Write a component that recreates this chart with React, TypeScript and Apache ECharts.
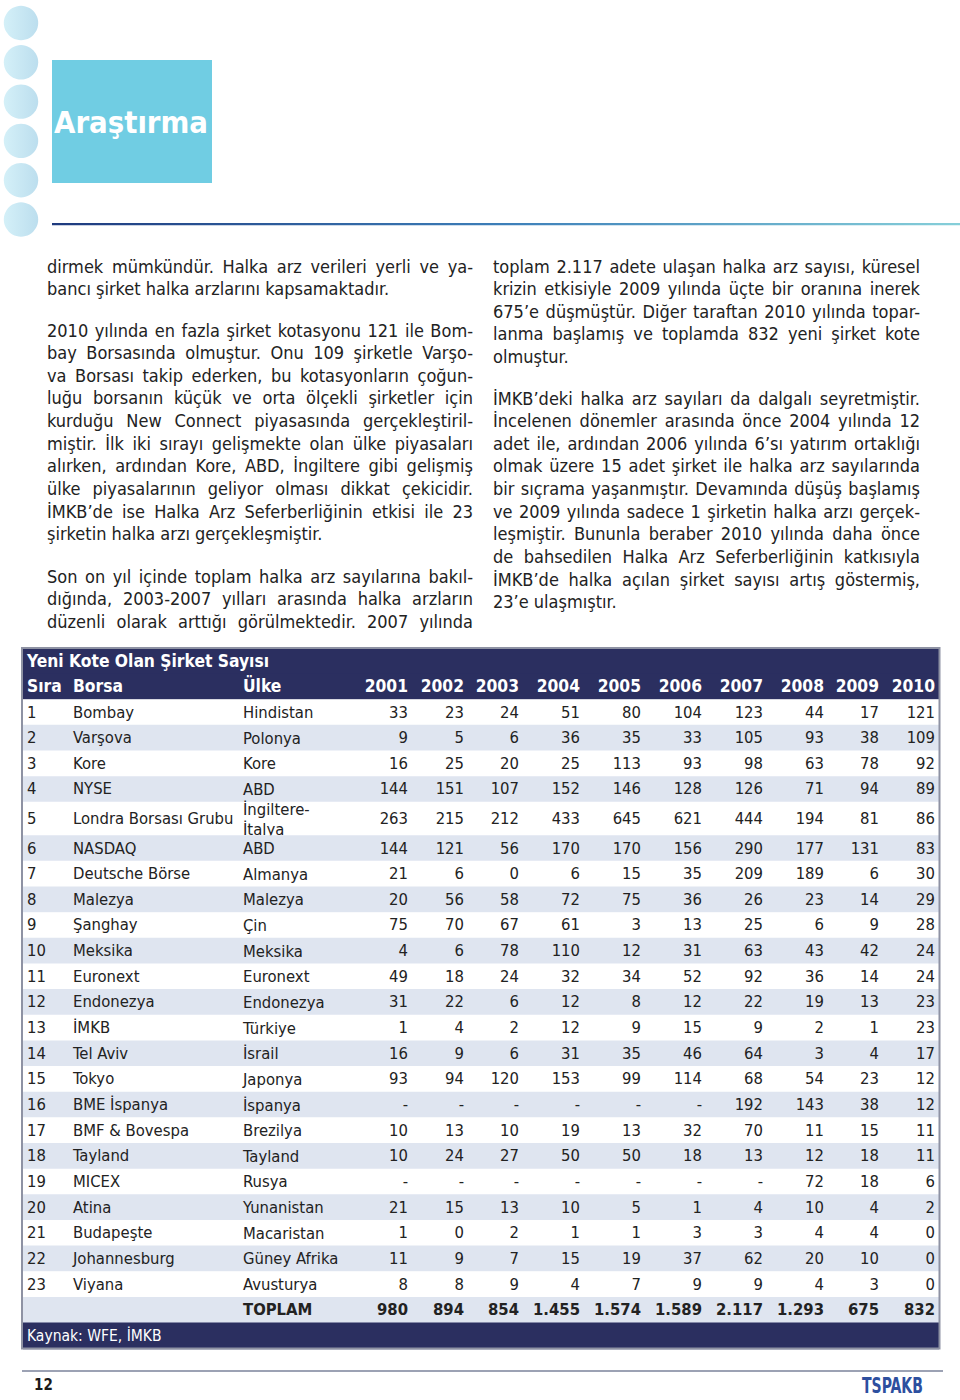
import React, { useEffect, useRef } from 'react';
import * as echarts from 'echarts';

// ---------------- DATA ----------------
const tableTitle = 'Yeni Kote Olan Şirket Sayısı';
const headSira = 'Sıra';
const headBorsa = 'Borsa';
const headUlke = 'Ülke';
const years = ['2001', '2002', '2003', '2004', '2005', '2006', '2007', '2008', '2009', '2010'];
const ranks = [1, 2, 3, 4, 5, 6, 7, 8, 9, 10, 11, 12, 13, 14, 15, 16, 17, 18, 19, 20, 21, 22, 23];
const exchanges = [
  'Bombay', 'Varşova', 'Kore', 'NYSE', 'Londra Borsası Grubu', 'NASDAQ', 'Deutsche Börse', 'Malezya',
  'Şanghay', 'Meksika', 'Euronext', 'Endonezya', 'İMKB', 'Tel Aviv', 'Tokyo', 'BME İspanya',
  'BMF & Bovespa', 'Tayland', 'MICEX', 'Atina', 'Budapeşte', 'Johannesburg', 'Viyana',
];
const countries = [
  'Hindistan', 'Polonya', 'Kore', 'ABD', 'İngiltere-\nİtalya', 'ABD', 'Almanya', 'Malezya',
  'Çin', 'Meksika', 'Euronext', 'Endonezya', 'Türkiye', 'İsrail', 'Japonya', 'İspanya',
  'Brezilya', 'Tayland', 'Rusya', 'Yunanistan', 'Macaristan', 'Güney Afrika', 'Avusturya',
];
const v2001 = [33, 9, 16, 144, 263, 144, 21, 20, 75, 4, 49, 31, 1, 16, 93, null, 10, 10, null, 21, 1, 11, 8];
const v2002 = [23, 5, 25, 151, 215, 121, 6, 56, 70, 6, 18, 22, 4, 9, 94, null, 13, 24, null, 15, 0, 9, 8];
const v2003 = [24, 6, 20, 107, 212, 56, 0, 58, 67, 78, 24, 6, 2, 6, 120, null, 10, 27, null, 13, 2, 7, 9];
const v2004 = [51, 36, 25, 152, 433, 170, 6, 72, 61, 110, 32, 12, 12, 31, 153, null, 19, 50, null, 10, 1, 15, 4];
const v2005 = [80, 35, 113, 146, 645, 170, 15, 75, 3, 12, 34, 8, 9, 35, 99, null, 13, 50, null, 5, 1, 19, 7];
const v2006 = [104, 33, 93, 128, 621, 156, 35, 36, 13, 31, 52, 12, 15, 46, 114, null, 32, 18, null, 1, 3, 37, 9];
const v2007 = [123, 105, 98, 126, 444, 290, 209, 26, 25, 63, 92, 22, 9, 64, 68, 192, 70, 13, null, 4, 3, 62, 9];
const v2008 = [44, 93, 63, 71, 194, 177, 189, 23, 6, 43, 36, 19, 2, 3, 54, 143, 11, 12, 72, 10, 4, 20, 4];
const v2009 = [17, 38, 78, 94, 81, 131, 6, 14, 9, 42, 14, 13, 1, 4, 23, 38, 15, 18, 18, 4, 4, 10, 3];
const v2010 = [121, 109, 92, 89, 86, 83, 30, 29, 28, 24, 24, 23, 23, 17, 12, 12, 11, 11, 6, 2, 0, 0, 0];
const yearValues = [v2001, v2002, v2003, v2004, v2005, v2006, v2007, v2008, v2009, v2010];
const totalLabel = 'TOPLAM';
const totals = ['980', '894', '854', '1.455', '1.574', '1.589', '2.117', '1.293', '675', '832'];
const sourceNote = 'Kaynak: WFE, İMKB';

const sectionTitle = 'Araştırma';
const pageNumber = '12';
const brand = 'TSPAKB';

const leftParagraphs = [
  {
    lines: [
      'dirmek mümkündür. Halka arz verileri yerli ve ya-',
      'bancı şirket halka arzlarını kapsamaktadır.',
    ],
    ends: true,
  },
  {
    lines: [
      '2010 yılında en fazla şirket kotasyonu 121 ile Bom-',
      'bay Borsasında olmuştur. Onu 109 şirketle Varşo-',
      'va Borsası takip ederken, bu kotasyonların çoğun-',
      'luğu borsanın küçük ve orta ölçekli şirketler için',
      'kurduğu New Connect piyasasında gerçekleştiril-',
      'miştir. İlk iki sırayı gelişmekte olan ülke piyasaları',
      'alırken, ardından Kore, ABD, İngiltere gibi gelişmiş',
      'ülke piyasalarının geliyor olması dikkat çekicidir.',
      'İMKB’de ise Halka Arz Seferberliğinin etkisi ile 23',
      'şirketin halka arzı gerçekleşmiştir.',
    ],
    ends: true,
  },
  {
    lines: [
      'Son on yıl içinde toplam halka arz sayılarına bakıl-',
      'dığında, 2003-2007 yılları arasında halka arzların',
      'düzenli olarak arttığı görülmektedir. 2007 yılında',
    ],
    ends: false,
  },
];
const rightParagraphs = [
  {
    lines: [
      'toplam 2.117 adete ulaşan halka arz sayısı, küresel',
      'krizin etkisiyle 2009 yılında üçte bir oranına inerek',
      '675’e düşmüştür. Diğer taraftan 2010 yılında topar-',
      'lanma başlamış ve toplamda 832 yeni şirket kote',
      'olmuştur.',
    ],
    ends: true,
  },
  {
    lines: [
      'İMKB’deki halka arz sayıları da dalgalı seyretmiştir.',
      'İncelenen dönemler arasında önce 2004 yılında 12',
      'adet ile, ardından 2006 yılında 6’sı yatırım ortaklığı',
      'olmak üzere 15 adet şirket ile halka arz sayılarında',
      'bir sıçrama yaşanmıştır. Devamında düşüş başlamış',
      've 2009 yılında sadece 1 şirketin halka arzı gerçek-',
      'leşmiştir. Bununla beraber 2010 yılında daha önce',
      'de bahsedilen Halka Arz Seferberliğinin katkısıyla',
      'İMKB’de halka açılan şirket sayısı artış göstermiş,',
      '23’e ulaşmıştır.',
    ],
    ends: true,
  },
];

// ---------------- LAYOUT / STYLE ----------------
const FF = '"DejaVu Sans Condensed", "DejaVu Sans", sans-serif';
const BODY_FONT = `18px ${FF}`;
const CELL_FONT = `16.5px ${FF}`;
const CELL_BOLD = `bold 16.5px ${FF}`;
const HEAD_BOLD = `bold 17.3px ${FF}`;
const NAVY = '#2b2f60';
const LIGHT = '#dfe5f0';
const TEXT = '#222222';
const TABLE_LEFT = 23;
const TABLE_TOP = 648.5;
const TABLE_W = 916;
const COL_SIRA = 4;
const COL_BORSA = 50;
const COL_ULKE = 220;
const YEAR_RIGHT = [385, 441, 496, 557, 618, 679, 740, 801, 856, 912];
const LINE_H = 22.65;

let measureCtx: CanvasRenderingContext2D | null = null;
function measure(text: string, font: string): number {
  if (!measureCtx) measureCtx = document.createElement('canvas').getContext('2d');
  measureCtx!.font = font;
  return measureCtx!.measureText(text).width;
}

function textEl(x: number, y: number, text: string, font: string, fill: string, align = 'left', extra: any = {}) {
  return {
    type: 'text',
    x,
    y,
    silent: true,
    ...extra,
    style: {
      text,
      font,
      fill,
      align,
      textAlign: align,
      verticalAlign: 'middle',
      textVerticalAlign: 'middle',
      ...(extra.style || {}),
    },
  };
}

function layoutColumn(paragraphs: any[], x0: number, width: number, starts: number[]) {
  const out: any[] = [];
  paragraphs.forEach((p, pi) => {
    p.lines.forEach((line: string, li: number) => {
      const y = starts[pi] + li * LINE_H;
      const isLast = li === p.lines.length - 1 && p.ends;
      if (isLast) {
        out.push(textEl(x0, y, line, BODY_FONT, TEXT));
        return;
      }
      const words = line.split(' ');
      const ws = words.map((w) => measure(w, BODY_FONT));
      const sum = ws.reduce((a, b) => a + b, 0);
      const gap = (width - sum) / Math.max(1, words.length - 1);
      if (gap < 2) {
        const nat = measure(line, BODY_FONT);
        out.push(textEl(x0, y, line, BODY_FONT, TEXT, 'left', { scaleX: width / nat }));
        return;
      }
      let x = x0;
      words.forEach((w, i) => {
        out.push(textEl(x, y, w, BODY_FONT, TEXT));
        x += ws[i] + gap;
      });
    });
  });
  return out;
}

type RowSpec = { kind: string; top: number; h: number; i?: number };
function buildRows(): RowSpec[] {
  const rows: RowSpec[] = [];
  let y = 0;
  rows.push({ kind: 'title', top: y, h: 25 });
  y += 25;
  rows.push({ kind: 'head', top: y, h: 25.7 });
  y += 25.7;
  exchanges.forEach((_, i) => {
    const h = countries[i].includes('\n') ? 33.4 : 25.65;
    rows.push({ kind: 'data', top: y, h, i });
    y += h;
  });
  rows.push({ kind: 'total', top: y, h: 25.65 });
  y += 25.65;
  rows.push({ kind: 'foot', top: y, h: 26 });
  return rows;
}

function buildOption() {
  const rows = buildRows();
  const tableH = rows[rows.length - 1].top + rows[rows.length - 1].h;

  const renderItem = (params: any, api: any) => {
    const r = rows[api.value(2)];
    const tl = api.coord([0, r.top]);
    const br = api.coord([TABLE_W, r.top + r.h]);
    const cy = (tl[1] + br[1]) / 2;
    const X = (v: number) => api.coord([v, r.top])[0];
    let bg = '#ffffff';
    if (r.kind === 'title' || r.kind === 'head' || r.kind === 'foot') bg = NAVY;
    else if (r.kind === 'total') bg = LIGHT;
    else if ((r.i as number) % 2 === 1) bg = LIGHT;
    const children: any[] = [
      {
        type: 'rect',
        shape: { x: tl[0], y: tl[1], width: br[0] - tl[0], height: br[1] - tl[1] + 0.6 },
        style: { fill: bg },
      },
    ];
    if (r.kind === 'title') {
      children.push(textEl(X(COL_SIRA), cy, tableTitle, HEAD_BOLD, '#ffffff'));
    } else if (r.kind === 'head') {
      children.push(textEl(X(COL_SIRA), cy, headSira, HEAD_BOLD, '#ffffff'));
      children.push(textEl(X(COL_BORSA), cy, headBorsa, HEAD_BOLD, '#ffffff'));
      children.push(textEl(X(COL_ULKE), cy, headUlke, HEAD_BOLD, '#ffffff'));
      years.forEach((yr, k) => children.push(textEl(X(YEAR_RIGHT[k]), cy, yr, HEAD_BOLD, '#ffffff', 'right')));
    } else if (r.kind === 'data') {
      const i = r.i as number;
      children.push(textEl(X(COL_SIRA), cy, String(ranks[i]), CELL_FONT, TEXT));
      children.push(textEl(X(COL_BORSA), cy, exchanges[i], CELL_FONT, TEXT));
      children.push(
        textEl(X(COL_ULKE), cy + 0.5, countries[i], CELL_FONT, TEXT, 'left', { style: { lineHeight: 20 } })
      );
      yearValues.forEach((arr, k) => {
        const v = arr[i];
        children.push(textEl(X(YEAR_RIGHT[k]), cy, v === null ? '-' : String(v), CELL_FONT, TEXT, 'right'));
      });
    } else if (r.kind === 'total') {
      children.push(textEl(X(COL_ULKE), cy, totalLabel, CELL_BOLD, TEXT));
      totals.forEach((t, k) => children.push(textEl(X(YEAR_RIGHT[k]), cy, t, CELL_BOLD, TEXT, 'right')));
    } else if (r.kind === 'foot') {
      children.push(textEl(X(COL_SIRA), cy, sourceNote, `15.5px ${FF}`, '#ffffff'));
    }
    return { type: 'group', children };
  };

  const graphics: any[] = [];
  // decorative circles
  for (let k = 0; k < 6; k++) {
    graphics.push({
      type: 'circle',
      shape: { cx: 21, cy: 23 + k * 39.3, r: 17.2 },
      style: {
        fill: new echarts.graphic.LinearGradient(0, 0, 1, 0, [
          { offset: 0, color: '#d4f0f8' },
          { offset: 1, color: '#bcdeee' },
        ]),
      },
      silent: true,
    });
  }
  // section box
  graphics.push({
    type: 'rect',
    shape: { x: 52, y: 60, width: 160, height: 123 },
    style: { fill: '#70cde3' },
    silent: true,
  });
  const headFont = `bold 31px ${FF}`;
  const headW = measure(sectionTitle, headFont);
  graphics.push(textEl(54, 121.5, sectionTitle, headFont, '#ffffff', 'left', { scaleX: 154 / headW }));
  // top rule
  graphics.push({
    type: 'rect',
    shape: { x: 52, y: 223, width: 908, height: 2.2 },
    style: {
      fill: new echarts.graphic.LinearGradient(0, 0, 1, 0, [
        { offset: 0, color: '#1e3a7e' },
        { offset: 0.5, color: '#3d7fb9' },
        { offset: 1, color: '#86cfd9' },
      ]),
    },
    silent: true,
  });
  // body text
  graphics.push(...layoutColumn(leftParagraphs, 47, 426, [266, 330, 576]));
  graphics.push(...layoutColumn(rightParagraphs, 493, 427, [266, 398]));
  // table outline
  graphics.push({
    type: 'rect',
    z: 100,
    shape: { x: 22, y: 648, width: 917.5, height: tableH + 0.5 },
    style: { fill: 'none', stroke: '#8e92a3', lineWidth: 2 },
    silent: true,
  });
  // footer rule
  graphics.push({
    type: 'rect',
    shape: { x: 22, y: 1370, width: 921, height: 2 },
    style: { fill: '#9ca2b4' },
    silent: true,
  });
  graphics.push(textEl(34, 1385, pageNumber, `bold 15px ${FF}`, '#1a1a1a'));
  const brandFont = `bold 22px ${FF}`;
  const brandW = measure(brand, brandFont);
  graphics.push(textEl(862, 1385, brand, brandFont, '#2d4f9f', 'left', { scaleX: 61 / brandW }));

  return {
    animation: false,
    grid: { left: TABLE_LEFT, top: TABLE_TOP, width: TABLE_W, height: tableH, show: false },
    xAxis: { type: 'value', min: 0, max: TABLE_W, show: false },
    yAxis: { type: 'value', min: 0, max: tableH, inverse: true, show: false },
    series: [
      {
        type: 'custom',
        coordinateSystem: 'cartesian2d',
        clip: false,
        silent: true,
        encode: { x: 0, y: 1 },
        data: rows.map((r, i) => [0, r.top, i]),
        renderItem,
      },
    ],
    graphic: { elements: graphics },
  };
}

export default function App() {
  const ref = useRef<HTMLDivElement>(null);
  useEffect(() => {
    document.body.style.margin = '0';
    const chart = echarts.init(ref.current!, null, { renderer: 'svg', width: 960, height: 1400 });
    chart.setOption(buildOption() as any);
    return () => chart.dispose();
  }, []);
  return <div ref={ref} style={{ width: 960, height: 1400 }} />;
}
